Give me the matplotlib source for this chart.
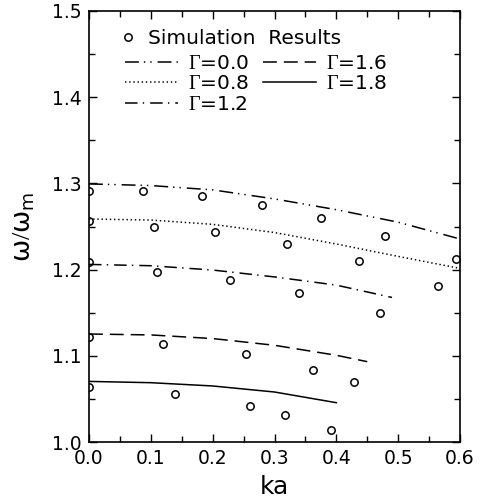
import matplotlib
matplotlib.use("Agg")
import matplotlib.pyplot as plt
from matplotlib.ticker import MultipleLocator, FormatStrFormatter

plt.rcParams['font.family'] = ['DejaVu Sans']
plt.rcParams['mathtext.fontset'] = 'custom'
plt.rcParams['mathtext.rm'] = 'Liberation Serif'
plt.rcParams['mathtext.it'] = 'DejaVu Sans'
plt.rcParams['mathtext.sf'] = 'DejaVu Sans'
plt.rcParams['lines.scale_dashes'] = False

# ---- simulation results (open circles) ----
sim_ka_g00 = [0.0, 0.088, 0.182, 0.280, 0.376, 0.478, 0.593]
sim_w_g00 = [1.2916, 1.2910, 1.2850, 1.2750, 1.2595, 1.2393, 1.2122]
sim_ka_g08 = [0.0, 0.105, 0.203, 0.321, 0.436, 0.565]
sim_w_g08 = [1.2560, 1.2500, 1.2433, 1.2297, 1.2102, 1.1812]
sim_ka_g12 = [0.0, 0.110, 0.228, 0.340, 0.470]
sim_w_g12 = [1.2084, 1.1970, 1.1880, 1.1727, 1.1494]
sim_ka_g16 = [0.0, 0.120, 0.254, 0.363, 0.428]
sim_w_g16 = [1.1223, 1.1142, 1.1026, 1.0830, 1.0700]
sim_ka_g18 = [0.0, 0.139, 0.261, 0.317, 0.391]
sim_w_g18 = [1.0640, 1.0552, 1.0413, 1.0308, 1.0137]

# ---- theory curves ----
th_ka_g00 = [0.0, 0.1, 0.2, 0.3, 0.4, 0.5, 0.6]
th_w_g00 = [1.2994, 1.2975, 1.2925, 1.2820, 1.2695, 1.2550, 1.2355]
th_ka_g08 = [0.0, 0.1, 0.2, 0.3, 0.4, 0.5, 0.6]
th_w_g08 = [1.2587, 1.2575, 1.2525, 1.2430, 1.2297, 1.2153, 1.2014]
th_ka_g12 = [0.0, 0.1, 0.2, 0.3, 0.4, 0.49]
th_w_g12 = [1.2060, 1.2045, 1.1995, 1.1915, 1.1820, 1.1677]
th_ka_g16 = [0.0, 0.1, 0.2, 0.3, 0.4, 0.45]
th_w_g16 = [1.1253, 1.1242, 1.1200, 1.1122, 1.1006, 1.0932]
th_ka_g18 = [0.0, 0.1, 0.2, 0.3, 0.4]
th_w_g18 = [1.0703, 1.0688, 1.0650, 1.0580, 1.0456]

labels = [r'$\mathrm{\Gamma}$=0.0', r'$\mathrm{\Gamma}$=0.8', r'$\mathrm{\Gamma}$=1.2',
          r'$\mathrm{\Gamma}$=1.6', r'$\mathrm{\Gamma}$=1.8']

fig = plt.figure(figsize=(4.81, 5.04), dpi=100)
ax = fig.add_axes([89/481, 1 - 442/504, 371/481, 431/504])

lw = 1.1
styles = [(0, (10, 3.6, 1, 3.6, 1, 4.3)), (0, (1, 2)), (0, (9, 3.8, 1, 4.3)),
          (0, (10, 5)), '-']
curves = [(th_ka_g00, th_w_g00), (th_ka_g08, th_w_g08), (th_ka_g12, th_w_g12),
          (th_ka_g16, th_w_g16), (th_ka_g18, th_w_g18)]
line_handles = []
for (xs, ys), ls, lab in zip(curves, styles, labels):
    h, = ax.plot(xs, ys, color='black', lw=lw, linestyle=ls, label=lab)
    line_handles.append(h)

sims = [(sim_ka_g00, sim_w_g00), (sim_ka_g08, sim_w_g08), (sim_ka_g12, sim_w_g12),
        (sim_ka_g16, sim_w_g16), (sim_ka_g18, sim_w_g18)]
sim_handle = None
for xs, ys in sims:
    sim_handle, = ax.plot(xs, ys, linestyle='none', marker='o', ms=5.3,
                          mfc='none', mec='black', mew=1.1)

ax.set_xlim(0.0, 0.6)
ax.set_ylim(1.0, 1.5)
ax.xaxis.set_major_locator(MultipleLocator(0.1))
ax.xaxis.set_minor_locator(MultipleLocator(0.05))
ax.yaxis.set_major_locator(MultipleLocator(0.1))
ax.yaxis.set_minor_locator(MultipleLocator(0.05))
ax.xaxis.set_major_formatter(FormatStrFormatter('%.1f'))
ax.yaxis.set_major_formatter(FormatStrFormatter('%.1f'))
ax.tick_params(which='both', direction='in', top=True, right=True, width=1.0)
ax.tick_params(which='major', length=6, labelsize=13.5, pad=5)
ax.tick_params(which='minor', length=4)
for s in ax.spines.values():
    s.set_linewidth(1.2)

ax.set_xlabel('ka', fontsize=18, labelpad=5)
ax.set_ylabel(r'$\omega/\omega_m$', fontsize=19, labelpad=11)

leg1 = ax.legend([sim_handle], ['Simulation  Results'], loc='upper left',
                 bbox_to_anchor=(0.078, 0.958), frameon=False, fontsize=14.5,
                 handlelength=1.0, handletextpad=0.5, borderpad=0, borderaxespad=0)
ax.add_artist(leg1)
ax.legend(line_handles, labels, loc='upper left', ncol=2,
          bbox_to_anchor=(0.097, 0.901), frameon=False, fontsize=14.5,
          handlelength=2.63, handletextpad=0.5, columnspacing=0.7,
          labelspacing=0.08, borderpad=0, borderaxespad=0)

fig.savefig('out.png', dpi=100)
